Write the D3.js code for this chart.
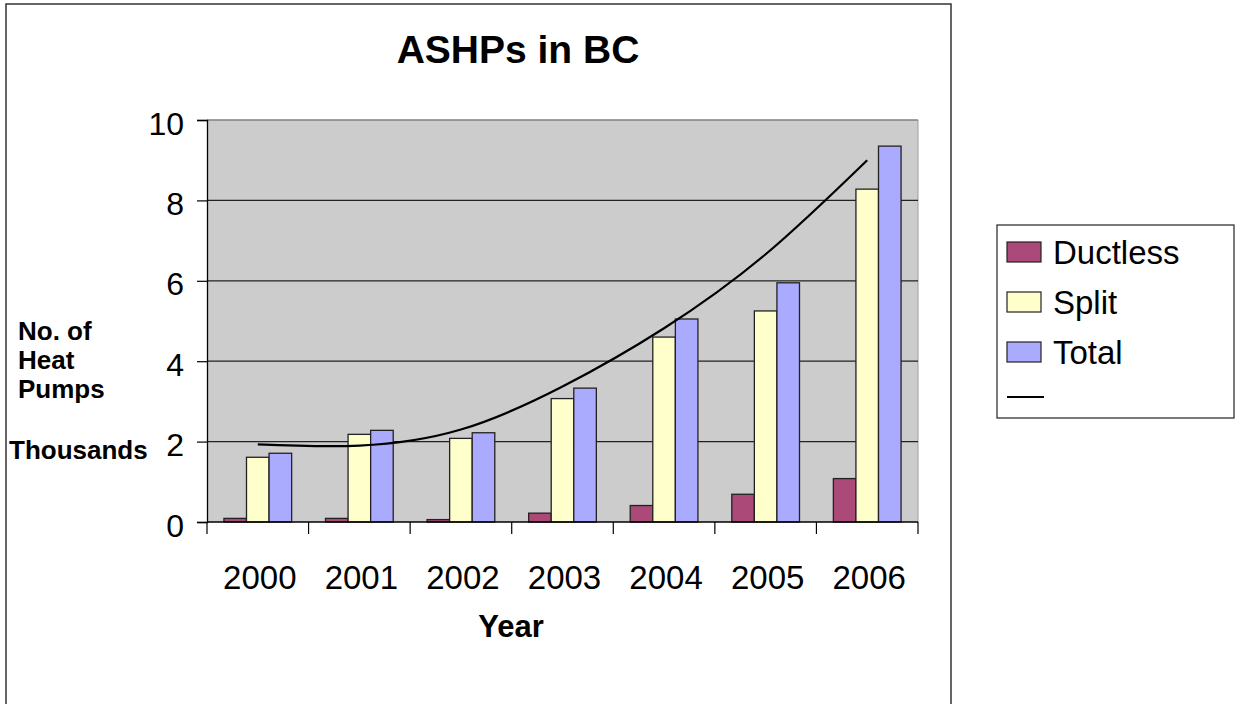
<!DOCTYPE html>
<html>
<head>
<meta charset="utf-8">
<script src="https://cdn.jsdelivr.net/npm/d3@7"></script>
<style>
  body { margin: 0; background: #fff; }
  svg { display: block; font-family: 'Liberation Sans', Arial, sans-serif; }
</style>
</head>
<body>
<svg id="chart" width="1236" height="704"></svg>
<script>
'use strict';

const years = ['2000', '2001', '2002', '2003', '2004', '2005', '2006'];
const seriesNames = ['Ductless', 'Split', 'Total'];
const ductless = [0.09, 0.09, 0.06, 0.22, 0.41, 0.69, 1.08];
const split = [1.61, 2.18, 2.08, 3.07, 4.6, 5.25, 8.28];
const total = [1.71, 2.28, 2.22, 3.33, 5.05, 5.95, 9.35];
// trendline at each year
const trend = [1.93, 1.9, 2.3, 3.37, 4.82, 6.66, 9.0];
const yTicks = [0, 2, 4, 6, 8, 10];
const yTitleLines = ['No. of', 'Heat', 'Pumps'];

const COLORS = ['#ab4a78', '#ffffcc', '#aaaaff'];

const svg = d3.select('#chart');
const plot = { left: 207, top: 120, right: 918, bottom: 522 };

// outer chart frame
svg.append('rect')
  .attr('x', 6).attr('y', 4)
  .attr('width', 945).attr('height', 720)
  .attr('fill', '#fff')
  .attr('stroke', '#333')
  .attr('stroke-width', 1.5);

const x = d3.scaleBand().domain(years).range([plot.left, plot.right]);
const xSub = d3.scaleBand()
  .domain(seriesNames)
  .range([0, x.bandwidth()])
  .paddingOuter(0.75);
const y = d3.scaleLinear().domain([0, 10]).range([plot.bottom, plot.top]);

// plot area background
svg.append('rect')
  .attr('x', plot.left).attr('y', plot.top)
  .attr('width', plot.right - plot.left)
  .attr('height', plot.bottom - plot.top)
  .attr('fill', '#cccccc');

// right edge of plot area
svg.append('line')
  .attr('x1', plot.right).attr('x2', plot.right)
  .attr('y1', plot.top).attr('y2', plot.bottom)
  .attr('stroke', '#a0a0a0');

// gridlines
svg.append('g')
  .selectAll('line')
  .data(yTicks.slice(1))
  .join('line')
  .attr('x1', plot.left).attr('x2', plot.right)
  .attr('y1', (d) => y(d)).attr('y2', (d) => y(d))
  .attr('stroke', (d) => (d === 10 ? '#808080' : '#222'))
  .attr('stroke-width', (d) => (d === 10 ? 1.5 : 1.2));

// bars
const rows = years.map((yr, i) => ({
  year: yr,
  values: [ductless[i], split[i], total[i]],
}));

svg.append('g')
  .selectAll('g')
  .data(rows)
  .join('g')
  .attr('transform', (d) => `translate(${x(d.year)},0)`)
  .selectAll('rect')
  .data((d) => d.values.map((v, k) => ({ key: seriesNames[k], value: v, k })))
  .join('rect')
  .attr('x', (d) => xSub(d.key))
  .attr('width', xSub.bandwidth())
  .attr('y', (d) => y(d.value))
  .attr('height', (d) => y(0) - y(d.value))
  .attr('fill', (d) => COLORS[d.k])
  .attr('stroke', '#222')
  .attr('stroke-width', 1.3);

// trendline
const line = d3.line()
  .x((d, i) => x(years[i]) + x.bandwidth() / 2)
  .y((d) => y(d))
  .curve(d3.curveNatural);

svg.append('path')
  .datum(trend)
  .attr('d', line)
  .attr('fill', 'none')
  .attr('stroke', '#000')
  .attr('stroke-width', 2.2);

// Y axis
const yAxis = svg.append('g')
  .attr('transform', `translate(${plot.left},0)`)
  .call(d3.axisLeft(y).tickValues(yTicks).tickSize(10).tickPadding(13));
yAxis.select('.domain').attr('stroke', '#000').attr('stroke-width', 1.3);
yAxis.selectAll('.tick line').attr('stroke', '#000').attr('stroke-width', 1.2);
yAxis.selectAll('.tick text')
  .attr('font-size', 32)
  .attr('font-family', "'Liberation Sans', Arial, sans-serif")
  .attr('fill', '#000')
  .attr('dy', 14);

// X axis line and boundary ticks
svg.append('line')
  .attr('x1', plot.left).attr('x2', plot.right)
  .attr('y1', y(0)).attr('y2', y(0))
  .attr('stroke', '#000').attr('stroke-width', 1.3);

svg.append('g')
  .selectAll('line')
  .data(years.map((yr) => x(yr)).concat([x.range()[1]]))
  .join('line')
  .attr('x1', (d) => d).attr('x2', (d) => d)
  .attr('y1', y(0)).attr('y2', y(0) + 12)
  .attr('stroke', '#000').attr('stroke-width', 1.2);

const xAxis = svg.append('g')
  .attr('transform', `translate(2,${plot.bottom})`)
  .call(d3.axisBottom(x).tickSize(0).tickPadding(44));
xAxis.select('.domain').remove();
xAxis.selectAll('.tick text')
  .attr('font-size', 33)
  .attr('font-family', "'Liberation Sans', Arial, sans-serif")
  .attr('fill', '#000');

// titles
svg.append('text')
  .attr('x', 518).attr('y', 63)
  .attr('text-anchor', 'middle')
  .attr('font-size', 39)
  .attr('font-weight', 'bold')
  .text('ASHPs in BC');

svg.append('text')
  .attr('x', 511).attr('y', 637)
  .attr('text-anchor', 'middle')
  .attr('font-size', 31)
  .attr('font-weight', 'bold')
  .text('Year');

svg.append('g')
  .selectAll('text')
  .data(yTitleLines)
  .join('text')
  .attr('x', 18)
  .attr('y', (d, i) => 340 + i * 29)
  .attr('font-size', 26)
  .attr('font-weight', 'bold')
  .text((d) => d);

svg.append('text')
  .attr('x', 9).attr('y', 459)
  .attr('font-size', 26)
  .attr('font-weight', 'bold')
  .text('Thousands');

// legend
const legend = svg.append('g').attr('transform', 'translate(997,225)');
legend.append('rect')
  .attr('width', 237).attr('height', 193)
  .attr('fill', '#fff')
  .attr('stroke', '#222')
  .attr('stroke-width', 1.2);

const items = legend.selectAll('g')
  .data(seriesNames)
  .join('g')
  .attr('transform', (d, i) => `translate(0,${17 + i * 50})`);
items.append('rect')
  .attr('x', 10).attr('width', 34).attr('height', 20)
  .attr('fill', (d, i) => COLORS[i])
  .attr('stroke', '#222')
  .attr('stroke-width', 1.2);
items.append('text')
  .attr('x', 56).attr('y', 22)
  .attr('font-size', 33)
  .text((d) => d);

legend.append('line')
  .attr('x1', 10).attr('x2', 47)
  .attr('y1', 172).attr('y2', 172)
  .attr('stroke', '#000').attr('stroke-width', 2.2);
</script>
</body>
</html>
